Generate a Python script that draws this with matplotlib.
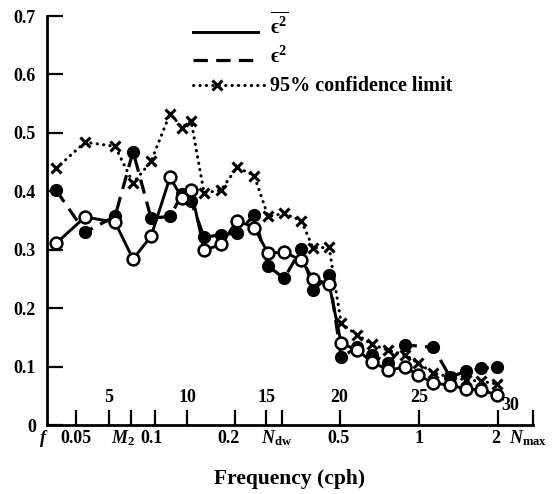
import matplotlib
matplotlib.use('Agg')
import matplotlib.pyplot as plt
from matplotlib.ticker import NullLocator, FixedLocator, FixedFormatter
from matplotlib.transforms import ScaledTranslation

plt.rcParams['font.family'] = 'Liberation Serif'
plt.rcParams['font.weight'] = 'bold'
plt.rcParams['mathtext.fontset'] = 'custom'
plt.rcParams['mathtext.rm'] = 'Liberation Serif:bold'
plt.rcParams['mathtext.it'] = 'Liberation Serif:italic:bold'
plt.rcParams['mathtext.bf'] = 'Liberation Serif:bold'
plt.rcParams['mathtext.fallback'] = 'stix'

# ---------------- data ----------------
freq = [0.0420, 0.0541, 0.0703, 0.0823, 0.0963, 0.1137, 0.1263, 0.1366,
        0.1531, 0.1776, 0.2042, 0.2370, 0.2678, 0.3080, 0.3574, 0.3968,
        0.4564, 0.5070, 0.5830, 0.6648, 0.7644, 0.8868, 0.9934, 1.133,
        1.314, 1.512, 1.723, 1.982]

eps2_mean = [0.311, 0.356, 0.347, 0.284, 0.323, 0.424, 0.388, 0.403,
             0.299, 0.309, 0.350, 0.338, 0.294, 0.296, 0.282, 0.250,
             0.241, 0.140, 0.128, 0.108, 0.094, 0.099, 0.085, 0.072,
             0.068, 0.062, 0.060, 0.051]

freq_eps2 = [0.0420, 0.0541, 0.0703, 0.0823, 0.0963, 0.1137, 0.1263, 0.1366,
             0.1531, 0.1776, 0.2042, 0.2370, 0.2678, 0.3080, 0.3574, 0.3968,
             0.4564, 0.5070, 0.5830, 0.6648, 0.7644, 0.8868, 1.133,
             1.314, 1.512, 1.723, 1.982]
eps2 = [0.402, 0.330, 0.357, 0.468, 0.354, 0.357, 0.395, 0.383,
        0.321, 0.326, 0.328, 0.359, 0.272, 0.251, 0.301, 0.231,
        0.256, 0.116, 0.133, 0.120, 0.106, 0.137, 0.133,
        0.082, 0.092, 0.097, 0.099]

conf95 = [0.439, 0.484, 0.477, 0.414, 0.451, 0.533, 0.509, 0.521,
          0.397, 0.402, 0.441, 0.427, 0.357, 0.362, 0.350, 0.303,
          0.304, 0.174, 0.154, 0.138, 0.128, 0.120, 0.106, 0.089,
          0.082, 0.077, 0.075, 0.070]

F_INERTIAL = 0.0388
M2 = 0.0805
N_DW = 0.303
N_MAX = 2.71

freq_ticks = [F_INERTIAL, 0.05, M2, 0.1, 0.2, N_DW, 0.5, 1.0, 2.0, N_MAX]
freq_labels = [r'$f$', '0.05', r'$M_2$', '0.1', '0.2', r'$N_{\mathrm{dw}}$',
               '0.5', '1', '2', r'$N_{\mathrm{max}}$']
band_freqs = [0.0667, 0.1319, 0.263, 0.5, 1.0, 2.0]
band_labels = ['5', '10', '15', '20', '25', '30']

y_ticks = [0, 0.1, 0.2, 0.3, 0.4, 0.5, 0.6, 0.7]
y_labels = ['0', '0.1', '0.2', '0.3', '0.4', '0.5', '0.6', '0.7']

legend_labels = [r'$\overline{\mathrm{ϵ}^{2}}$', r'$\mathrm{ϵ}^{2}$',
                 '95% confidence limit']

# ---------------- layout ----------------
W, H = 552, 494
L, R, B, T = 47, 533, 425, 16
fig = plt.figure(figsize=(W / 100, H / 100), dpi=100)
ax = fig.add_axes([L / W, 1 - B / H, (R - L) / W, (B - T) / H])


def apos(x, y):
    return ((x - L) / (R - L), (B - y) / (B - T))


ax.set_xscale('log')
ax.set_xlim(F_INERTIAL, N_MAX)
ax.set_ylim(0, 0.7)
for s in ['top', 'right']:
    ax.spines[s].set_visible(False)
for s in ['left', 'bottom']:
    ax.spines[s].set_linewidth(2.0)

# data
ax.plot(freq, conf95, color='black', lw=2.2, linestyle=(0, (0.1, 2.0)),
        dash_capstyle='round', marker='x', ms=7, mew=2.2, zorder=2)
ax.plot(freq_eps2, eps2, color='black', lw=2.3, linestyle=(0, (4.5, 2.6)),
        marker='o', ms=8.5, mfc='black', mec='black', zorder=3)
ax.plot(freq, eps2_mean, color='black', lw=2.1, linestyle='-',
        marker='o', ms=8.5, mfc='white', mec='black', mew=1.8, zorder=4)

# ticks
ax.xaxis.set_minor_locator(NullLocator())
ax.xaxis.set_major_locator(FixedLocator(
    [0.05, band_freqs[0], M2, 0.1, band_freqs[1], 0.2, band_freqs[2], N_DW,
     0.5, 1.0, 2.0, N_MAX]))
ax.xaxis.set_major_formatter(FixedFormatter([''] * 12))
ax.tick_params(axis='x', direction='in', length=11, width=1.6)
ax.set_yticks(y_ticks)
ax.set_yticklabels(y_labels, fontsize=13, fontweight='bold')
ax.tick_params(axis='y', direction='in', length=11.5, width=1.6, pad=8)

# frequency labels below axis
nudges = [-3, 0, -8, -4, -6, -6, -1, 0, -2, -5]
xt = ax.get_xaxis_transform()
for fpos, lab, dx in zip(freq_ticks, freq_labels, nudges):
    ax.text(fpos, -0.044, lab, transform=xt + ScaledTranslation(dx / 100, 0, fig.dpi_scale_trans),
            ha='center', va='baseline', fontsize=13, fontweight='bold',
            clip_on=False)

# band labels inside
for fpos, lab in zip(band_freqs, band_labels):
    if lab == '30':
        ax.text(fpos, apos(0, 405)[1], lab,
                transform=xt + ScaledTranslation(3 / 100, 0, fig.dpi_scale_trans),
                ha='left', va='center', fontsize=13, fontweight='bold')
    else:
        ax.text(fpos, apos(0, 397)[1], lab, transform=xt,
                ha='center', va='center', fontsize=13, fontweight='bold')

ax.text(0.5, apos(0, 484)[1], 'Frequency (cph)', transform=ax.transAxes,
        ha='center', va='baseline', fontsize=15.5, fontweight='bold')

# legend (manual)
x0, x1 = 193, 258
ly = [32, 60, 85]
p0, p1 = apos(x0, ly[0]), apos(x1, ly[0])
ax.plot([p0[0], p1[0]], [p0[1], p1[1]], transform=ax.transAxes, color='black',
        lw=2.1, clip_on=False)
p0, p1 = apos(x0, ly[1]), apos(x1, ly[1])
ax.plot([p0[0], p1[0]], [p0[1], p1[1]], transform=ax.transAxes, color='black',
        lw=2.3, linestyle=(0, (4.5, 2.6)), clip_on=False)
p0, p1 = apos(x0, ly[2]), apos(267, ly[2])
ax.plot([p0[0], p1[0]], [p0[1], p1[1]], transform=ax.transAxes, color='black',
        lw=2.2, linestyle=(0, (0.1, 2.0)), dash_capstyle='round', clip_on=False)
pm = apos(217, ly[2])
ax.plot([pm[0]], [pm[1]], transform=ax.transAxes, color='black', marker='x',
        ms=7, mew=2.2, clip_on=False)

tx = 270
for lab, yb in zip(legend_labels, [34, 63, 91]):
    ax.text(apos(tx, 0)[0], apos(0, yb)[1], lab, transform=ax.transAxes,
            ha='left', va='baseline', fontsize=14.5, fontweight='bold')

fig.savefig('out.png', dpi=100)
